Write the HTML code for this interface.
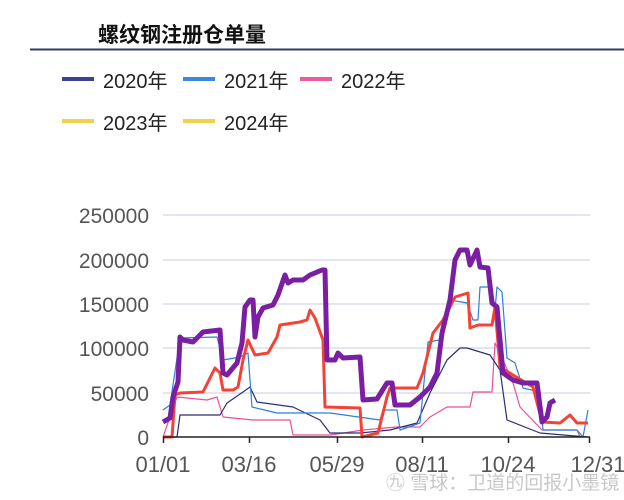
<!DOCTYPE html>
<html><head><meta charset="utf-8"><style>
body{margin:0;background:#fff;}
svg{display:block;font-family:"Liberation Sans","Noto Sans CJK SC",sans-serif;}
</style></head><body>
<svg width="624" height="500" viewBox="0 0 624 500">
<text x="98" y="42" font-size="21" fill="#111" font-weight="bold">螺纹钢注册仓单量</text>
<line x1="30" y1="49.5" x2="624" y2="49.5" stroke="#2c3e5f" stroke-width="2"/>
<g font-size="20" fill="#222">
<rect x="62" y="77" width="32" height="4" fill="#3c4290"/><text x="103" y="88">2020年</text>
<rect x="183" y="77" width="32" height="4" fill="#3b87d8"/><text x="224" y="88">2021年</text>
<rect x="300" y="77" width="32" height="4" fill="#ec5b9f"/><text x="341" y="88">2022年</text>
<rect x="62" y="119" width="32" height="4" fill="#f1d04a"/><text x="103" y="130">2023年</text>
<rect x="183" y="119" width="32" height="4" fill="#f1d04a"/><text x="224" y="130">2024年</text>
</g>
<g stroke="#d5d8e2" stroke-width="1.2">
<line x1="163" y1="215" x2="590" y2="215"/><line x1="163" y1="260" x2="590" y2="260"/>
<line x1="163" y1="304" x2="590" y2="304"/><line x1="163" y1="348" x2="590" y2="348"/>
<line x1="163" y1="393" x2="590" y2="393"/>
</g>
<g font-size="21" fill="#555" text-anchor="end">
<text x="149" y="223">250000</text><text x="149" y="268">200000</text>
<text x="149" y="312">150000</text><text x="149" y="356">100000</text>
<text x="149" y="401">50000</text><text x="149" y="445">0</text>
</g>
<g fill="none" stroke-linejoin="round">
<polyline stroke="#e8509a" stroke-width="1.2" points="163,437 177,397 207,400 217,397 220,407 223,417 253,420 290,420 293,435 330,435 363,430 397,427 420,427 430,417 447,407 470,407 473,392 492,392 495,343 503,360 513,383 520,407 542,430 577,430 580,437"/>
<polyline stroke="#2b2f7a" stroke-width="1.2" points="163,437 177,437 180,415 220,415 227,403 243,392 250,387 257,402 293,407 320,420 330,433 360,433 390,430 417,423 430,393 447,360 460,348 467,348 490,355 500,370 507,420 540,433 587,437"/>
<polyline stroke="#2e7fd6" stroke-width="1.2" points="163,410 170,405 180,338 217,337 223,360 240,357 248,353 252,407 277,413 330,413 380,420 383,410 397,410 400,430 420,423 428,342 440,340 450,300 467,303 473,320 478,320 480,287 492,287 495,310 497,287 502,292 507,358 515,363 523,388 540,392 543,430 577,430 583,437 588,410"/>
<polyline stroke="#f44336" stroke-width="3" points="163,437 172,437 175,395 180,393 203,392 210,378 215,368 220,373 223,390 233,390 238,387 243,360 248,340 255,355 268,353 277,337 280,325 300,322 307,320 310,310 315,318 323,340 325,407 360,408 362,437 378,433 387,397 390,388 417,388 423,373 433,333 443,320 450,307 455,297 468,293 470,328 478,325 492,325 495,307 500,367 513,375 533,387 542,422 560,423 570,415 577,423 588,423"/>
<polyline stroke="#7b1fa2" stroke-width="5" points="163,422 170,418 173,397 178,382 180,337 183,340 193,342 203,332 220,330 223,373 227,375 237,363 242,343 245,307 250,300 253,300 255,337 258,317 263,308 273,305 278,295 285,275 288,283 293,280 303,280 310,275 322,270 325,270 327,360 335,360 338,353 343,358 360,357 363,400 377,399 387,383 392,383 395,405 410,405 420,397 430,387 437,373 442,333 450,300 455,260 460,250 467,250 470,265 477,250 480,267 488,268 492,303 497,307 503,373 513,380 523,383 537,383 542,422 547,417 550,403 555,400"/>
</g>
<line x1="163" y1="437" x2="590" y2="437" stroke="#222" stroke-width="1.5"/>
<g stroke="#222" stroke-width="1.5">
<line x1="163.5" y1="437" x2="163.5" y2="443"/><line x1="249.5" y1="437" x2="249.5" y2="443"/>
<line x1="337.5" y1="437" x2="337.5" y2="443"/><line x1="422.5" y1="437" x2="422.5" y2="443"/>
<line x1="508.5" y1="437" x2="508.5" y2="443"/><line x1="589.5" y1="437" x2="589.5" y2="443"/>
</g>
<g font-size="22" fill="#555" text-anchor="middle">
<text x="163" y="472">01/01</text><text x="249" y="472">03/16</text>
<text x="337" y="472">05/29</text><text x="422" y="472">08/11</text>
<text x="508" y="472">10/24</text><text x="598" y="472">12/31</text>
</g>
<text x="386" y="489" font-size="19" fill="#c8c8c8">㊈ 雪球：卫道的回报小墨镜</text>
</svg>
</body></html>
